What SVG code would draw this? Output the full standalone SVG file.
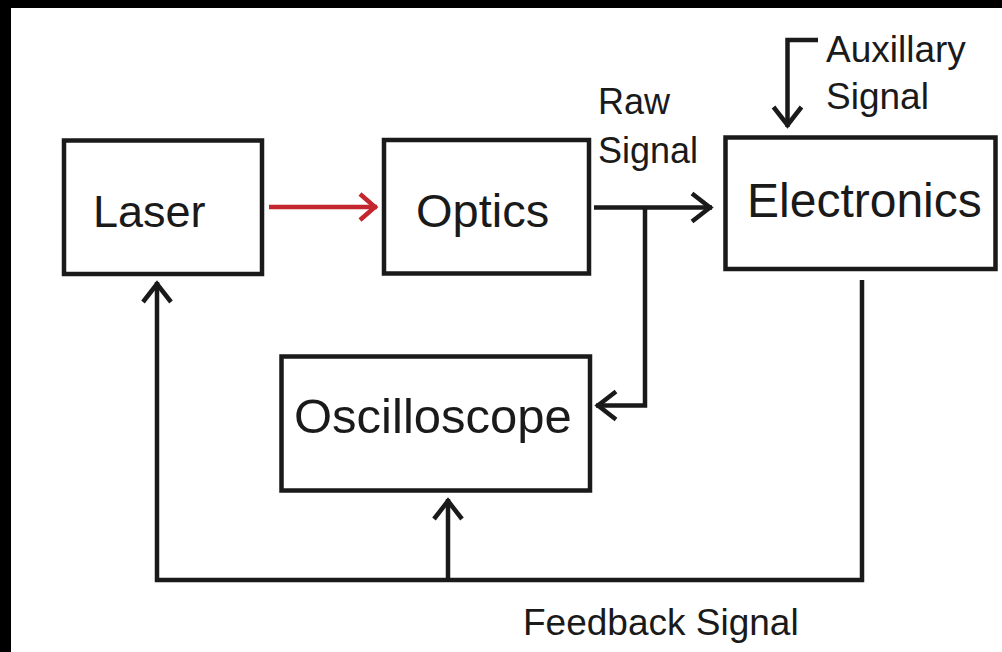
<svg xmlns="http://www.w3.org/2000/svg" width="1002" height="652" viewBox="0 0 1002 652">
  <style>
    .box { fill: #ffffff; stroke: #1a1a1a; stroke-width: 4.5; }
    .label { font-family: "Liberation Sans", Arial, sans-serif; fill: #1a1a1a; }
    .small { font-size: 37px; }
    .wire { fill: none; stroke: #1a1a1a; stroke-width: 4.5; stroke-linejoin: miter; stroke-linecap: butt; }
    .beam { fill: none; stroke: #c4262e; stroke-width: 4.5; }
  </style>
  <defs>
    <marker id="head" markerUnits="userSpaceOnUse" markerWidth="40" markerHeight="40" viewBox="-30 -20 40 40" refX="0" refY="0" orient="auto" overflow="visible">
      <path d="M-20,-14 L-2,0 L-20,14" fill="none" stroke="#1a1a1a" stroke-width="4.5"/>
    </marker>
    <marker id="head-red" markerUnits="userSpaceOnUse" markerWidth="40" markerHeight="40" viewBox="-30 -20 40 40" refX="0" refY="0" orient="auto" overflow="visible">
      <path d="M-17,-13 L-2,0 L-17,13" fill="none" stroke="#c4262e" stroke-width="4.5"/>
    </marker>
  </defs>

  <rect width="1002" height="652" fill="#ffffff"/>
  <!-- frame edges -->
  <rect x="0" y="0" width="1002" height="8" fill="#000000"/>
  <rect x="0" y="0" width="11" height="652" fill="#000000"/>

  <g id="connectors">
    <!-- laser beam into optics -->
    <line class="beam" x1="269" y1="207" x2="377" y2="207" marker-end="url(#head-red)"/>
    <!-- raw signal to electronics -->
    <line class="wire" x1="594" y1="207.5" x2="712" y2="207.5" marker-end="url(#head)"/>
    <!-- raw signal branch to oscilloscope -->
    <polyline class="wire" points="645,207.5 645,405.5 596,405.5" marker-end="url(#head)"/>
    <!-- auxillary input -->
    <polyline class="wire" points="818,40 787.5,40 787.5,127" marker-end="url(#head)"/>
    <!-- feedback loop -->
    <polyline class="wire" points="862,280 862,580 157,580 157,282" marker-end="url(#head)"/>
    <line class="wire" x1="448" y1="580" x2="448" y2="499" marker-end="url(#head)"/>
  </g>

  <g id="laser">
    <rect class="box" x="64" y="140.5" width="198" height="133.5"/>
    <text class="label" x="93" y="227" font-size="45">Laser</text>
  </g>

  <g id="optics">
    <rect class="box" x="384" y="140" width="205" height="133.5"/>
    <text class="label" x="416" y="227" font-size="47">Optics</text>
  </g>

  <g id="electronics">
    <rect class="box" x="725.5" y="137.5" width="270" height="131.5"/>
    <text class="label" x="747" y="217" font-size="48">Electronics</text>
  </g>

  <g id="oscilloscope">
    <rect class="box" x="281.5" y="356.5" width="308.5" height="134"/>
    <text class="label" x="294" y="433" font-size="49">Oscilloscope</text>
  </g>

  <g id="labels">
    <text class="label" font-size="36" x="598" y="114">Raw</text>
    <text class="label" font-size="36" x="598" y="163">Signal</text>
    <text class="label small" x="826" y="62">Auxillary</text>
    <text class="label small" x="826" y="109">Signal</text>
    <text class="label small" x="523" y="635">Feedback Signal</text>
  </g>
</svg>
